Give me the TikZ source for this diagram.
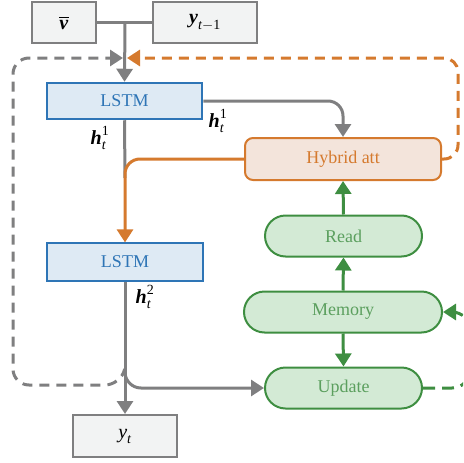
\documentclass[tikz,border=0pt]{standalone}
\usepackage{amsmath}
\usepackage{fontspec}
\setmainfont{Liberation Serif}
\usetikzlibrary{arrows.meta,shapes.misc}
\definecolor{cgray}{HTML}{7F7F80}
\definecolor{corange}{HTML}{D57A2E}
\definecolor{cgreen}{HTML}{3E8E41}
\definecolor{cblue}{HTML}{2E75B6}
\definecolor{fblue}{HTML}{DEEAF4}
\definecolor{forange}{HTML}{F3E4DB}
\definecolor{fgreen}{HTML}{D3EAD5}
\definecolor{fgray}{HTML}{F2F3F3}
\tikzset{
  txt/.style={font=\fontsize{18}{21}\selectfont},
  graybox/.style={draw=cgray, fill=fgray, line width=2pt, inner sep=0pt, font=\fontsize{20}{23}\selectfont},
  lstmbox/.style={draw=cblue, fill=fblue, text=cblue, inner sep=0pt, txt},
  hybbox/.style={draw=corange, fill=forange, text=corange, line width=2pt, rounded corners=8pt, inner sep=0pt, txt},
  membox/.style={draw=cgreen, fill=fgreen, text=cgreen!85, line width=2pt, rounded corners=20.5pt, inner sep=0pt, minimum height=41pt, txt},
  lbl/.style={inner sep=0pt, font=\fontsize{20}{23}\selectfont},
  tip/.style={-{Triangle[length=13pt,width=16pt]}},
  gline/.style={draw=cgray, line width=3pt},
  oline/.style={draw=corange, line width=3pt},
  grline/.style={draw=cgreen, line width=3pt},
  dsh/.style={dash pattern=on 10pt off 7pt},
}
\begin{document}
\begin{tikzpicture}[x=1pt,y=-1pt]
\useasboundingbox (0,0) rectangle (463,463);
\clip (0,0) rectangle (463,463);
% boxes
\node[graybox, minimum width=64pt, minimum height=41pt] (vbar) at (64,22.5) {$\overline{\textbf{\textit{v}}}$};
\node[graybox, minimum width=104pt, minimum height=41pt] (yprev) at (205,22.5) {$\textbf{\textit{y}}_{\textit{t}-\textrm{1}}$};
\node[lstmbox, line width=2.5pt, minimum width=155pt, minimum height=36pt] (lstm1) at (124.5,101) {LSTM};
\node[lstmbox, line width=1.2pt, minimum width=156pt, minimum height=38pt] (lstm2) at (125,262) {LSTM};
\node[graybox, minimum width=104pt, minimum height=42pt] (yt) at (125,436) {$\textit{y}_{\textit{t}}$};
\node[hybbox, minimum width=196pt, minimum height=42pt] (hyb) at (343,159) {Hybrid att};
\node[membox, minimum width=157pt] (read) at (343.5,236) {Read};
\node[membox, minimum width=198pt] (mem) at (343,312) {Memory};
\node[membox, minimum width=157pt] (upd) at (343.5,388) {Update};
% labels
\node[lbl] (h1r) at (218,121) {$\textbf{\textit{h}}_{\textit{t}}^{\textrm{1}}$};
\node[lbl] (h1l) at (100,138) {$\textbf{\textit{h}}_{\textit{t}}^{\textrm{1}}$};
\node[lbl] (h2) at (145,297) {$\textbf{\textit{h}}_{\textit{t}}^{\textrm{2}}$};
% coordinates
\coordinate (jtop) at (125,22.5);
\coordinate (jmid) at (125,178);
\coordinate (jlow) at (125,368);
\coordinate (jdash) at (124,372);
\coordinate (meet) at (125,58);
% top inputs
\draw[gline] (vbar.east) -- (yprev.west);
\draw[gline, tip] (jtop) -- (lstm1.north);
% lstm1 -> hybrid
\draw[gline, tip, rounded corners=15pt] (lstm1.east) -| (hyb.north);
% lstm1 down
\draw[gline] (lstm1.south) -- (jmid);
% hybrid -> lstm2
\draw[oline, tip, rounded corners=15pt] (hyb.west) -| (lstm2.north);
% lstm2 -> yt
\draw[gline, tip] (lstm2.south) -- (yt.north);
% branch to update
\draw[gline, tip, rounded corners=16pt] (jlow) |- (upd.west);
% gray dashed loop
\draw[gline, dsh, tip, rounded corners=16pt] (jdash) -- (121,385) -- (13,385) -- (13,58) -- ([xshift=-2pt]meet);
% orange dashed loop
\draw[oline, dsh, tip, rounded corners=14pt] (hyb.east) -- (458,159) -- (458,58) -- ([xshift=2pt]meet);
% green
\draw[grline, tip] (read.north) -- (hyb.south);
\draw[grline, tip] (mem.north) -- (read.south);
\draw[grline, tip] (mem.south) -- (upd.north);
\draw[grline, dash pattern=on 12pt off 7pt, tip, rounded corners=18pt] (upd.east) -- (470,388) -- (470,312) -- (mem.east);
\end{tikzpicture}
\end{document}
